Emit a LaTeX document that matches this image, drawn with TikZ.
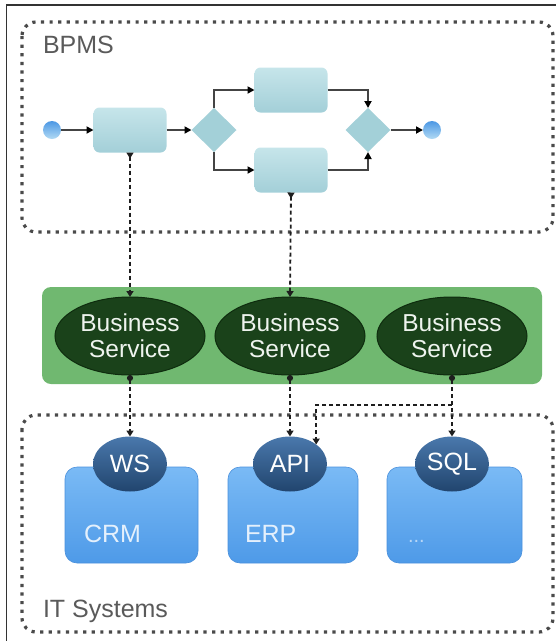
\documentclass[tikz,border=0pt]{standalone}
\usepackage{fontspec}
\setmainfont{Liberation Sans}
\usetikzlibrary{shapes.geometric,arrows.meta,calc}

\definecolor{frameInk}{HTML}{333333}
\definecolor{regionGray}{HTML}{4A4A4A}
\definecolor{labelGray}{HTML}{5A5A5A}
\definecolor{taskTop}{HTML}{C6E5EA}
\definecolor{taskBot}{HTML}{A3CFD8}
\definecolor{gateFill}{HTML}{A3D0D8}
\definecolor{evTop}{HTML}{4C98E4}
\definecolor{evBot}{HTML}{B2DAF4}
\definecolor{flowGray}{HTML}{444444}
\definecolor{linkInk}{HTML}{1E1E1E}
\definecolor{bandGreen}{HTML}{70B870}
\definecolor{svcFill}{HTML}{1A421A}
\definecolor{svcEdge}{HTML}{0E2C0E}
\definecolor{svcText}{HTML}{EEF4EE}
\definecolor{sysTop}{HTML}{7ABAF5}
\definecolor{sysBot}{HTML}{4E9AE8}
\definecolor{sysEdge}{HTML}{4A90DC}
\definecolor{sysText}{HTML}{E4F0FC}
\definecolor{ifTop}{HTML}{4A78AC}
\definecolor{ifBot}{HTML}{21456E}

\begin{document}
\begin{tikzpicture}[x=1pt,y=-1pt,
  every node/.style={inner sep=0pt,outer sep=0pt},
  region/.style={draw=regionGray,line width=3.2pt,dash pattern=on 3.2pt off 5.4pt,rounded corners=14pt},
  tasknode/.style={rectangle,rounded corners=6pt,minimum width=73pt,minimum height=45pt,
    top color=taskTop,bottom color=taskBot},
  gate/.style={diamond,minimum width=45pt,minimum height=44pt,fill=gateFill},
  event/.style={circle,minimum size=18pt,top color=evTop,bottom color=evBot},
  flow/.style={draw=flowGray,line width=1.8pt,-{Triangle[length=7pt,width=7pt,fill=black,color=black]}},
  link/.style={draw=linkInk,line width=1.8pt,dash pattern=on 4pt off 3pt},
  svc/.style={ellipse,minimum width=150pt,minimum height=78pt,fill=svcFill,draw=svcEdge,line width=1pt,
    text=svcText,align=center,font=\fontsize{24.5}{26}\selectfont},
  sysbox/.style={rectangle,rounded corners=12pt,minimum height=96pt,top color=sysTop,bottom color=sysBot,
    draw=sysEdge,line width=0.6pt},
  iface/.style={ellipse,minimum width=74pt,minimum height=55pt,top color=ifTop,bottom color=ifBot,
    text=white,font=\fontsize{25}{28}\selectfont},
  syslabel/.style={anchor=base west,text=sysText,font=\fontsize{25}{28}\selectfont},
  regionlabel/.style={anchor=base west,text=labelGray,font=\fontsize{25}{28}\selectfont}
]
\useasboundingbox (0,0) rectangle (556,641);

% outer frame (top and left edges)
\draw[frameInk,line width=1.3pt] (6.5,641) -- (6.5,5) -- (556,5);

% regions
\draw[region] (22,22) rectangle (553,232);
\draw[region] (22,415) rectangle (553,632);
\node[regionlabel] (bpmsLabel) at (43,53) {BPMS};
\node[regionlabel] (itLabel) at (43,617) {IT Systems};

% process
\node[event] (start) at (52,130) {};
\node[tasknode] (t1) at (130,130) {};
\node[gate] (g1) at (214,130) {};
\node[tasknode] (t2) at (291,90) {};
\node[tasknode] (t3) at (291,170) {};
\node[gate] (g2) at (368,130) {};
\node[event] (stop) at (432,130) {};

\draw[flow] (start) -- (t1);
\draw[flow] (t1) -- (g1);
\draw[flow] (g1.north) |- (t2.west);
\draw[flow] (g1.south) |- (t3.west);
\draw[flow] (t2.east) -| (g2.north);
\draw[flow] (t3.east) -| (g2.south);
\draw[flow] (g2) -- (stop);

% service layer
\node[rectangle,rounded corners=9pt,fill=bandGreen,minimum width=500pt,minimum height=97pt] (band) at (292,335.5) {};
\node[svc] (bs1) at (130,336) {Business\\Service};
\node[svc] (bs2) at (290,336) {Business\\Service};
\node[svc] (bs3) at (452,336) {Business\\Service};

% systems
\node[sysbox,minimum width=133pt] (crm) at (131.5,515) {};
\node[sysbox,minimum width=130pt] (erp) at (293,515) {};
\node[sysbox,minimum width=135pt] (other) at (454.5,515) {};
\node[syslabel] (crmLabel) at (84,542) {CRM};
\node[syslabel] (erpLabel) at (245,542) {ERP};
\node[syslabel,text=sysText!70!sysBot,font=\fontsize{20}{24}\selectfont] (otherLabel) at (408,542) {...};

\node[iface] (ws) at (130,464) {WS};
\node[iface] (api) at (290,464) {API};
\node[iface] (sql) at (452,464) {SQL};

% service links
\draw[link,{Triangle[reversed,length=6pt,width=7pt]}-{Triangle[length=6pt,width=7pt]}] (t1.south) -- (bs1.north);
\draw[link,{Triangle[reversed,length=6pt,width=7pt]}-{Triangle[length=6pt,width=7pt]}] (t3.south) -- (bs2.north);
\draw[link,{Circle[length=6pt]}-{Triangle[length=6pt,width=7pt]}] (bs1.south) -- (ws.north);
\draw[link,{Circle[length=6pt]}-{Triangle[length=6pt,width=7pt]}] (bs2.south) -- (api.north);
\draw[link,{Circle[length=6pt]}-{Triangle[length=6pt,width=7pt]}] (bs3.south) -- (sql.north);
\coordinate (fork) at (452,405);
\draw[link,-{Triangle[length=6pt,width=7pt]}] (fork) -| (api.north east);
\end{tikzpicture}
\end{document}
